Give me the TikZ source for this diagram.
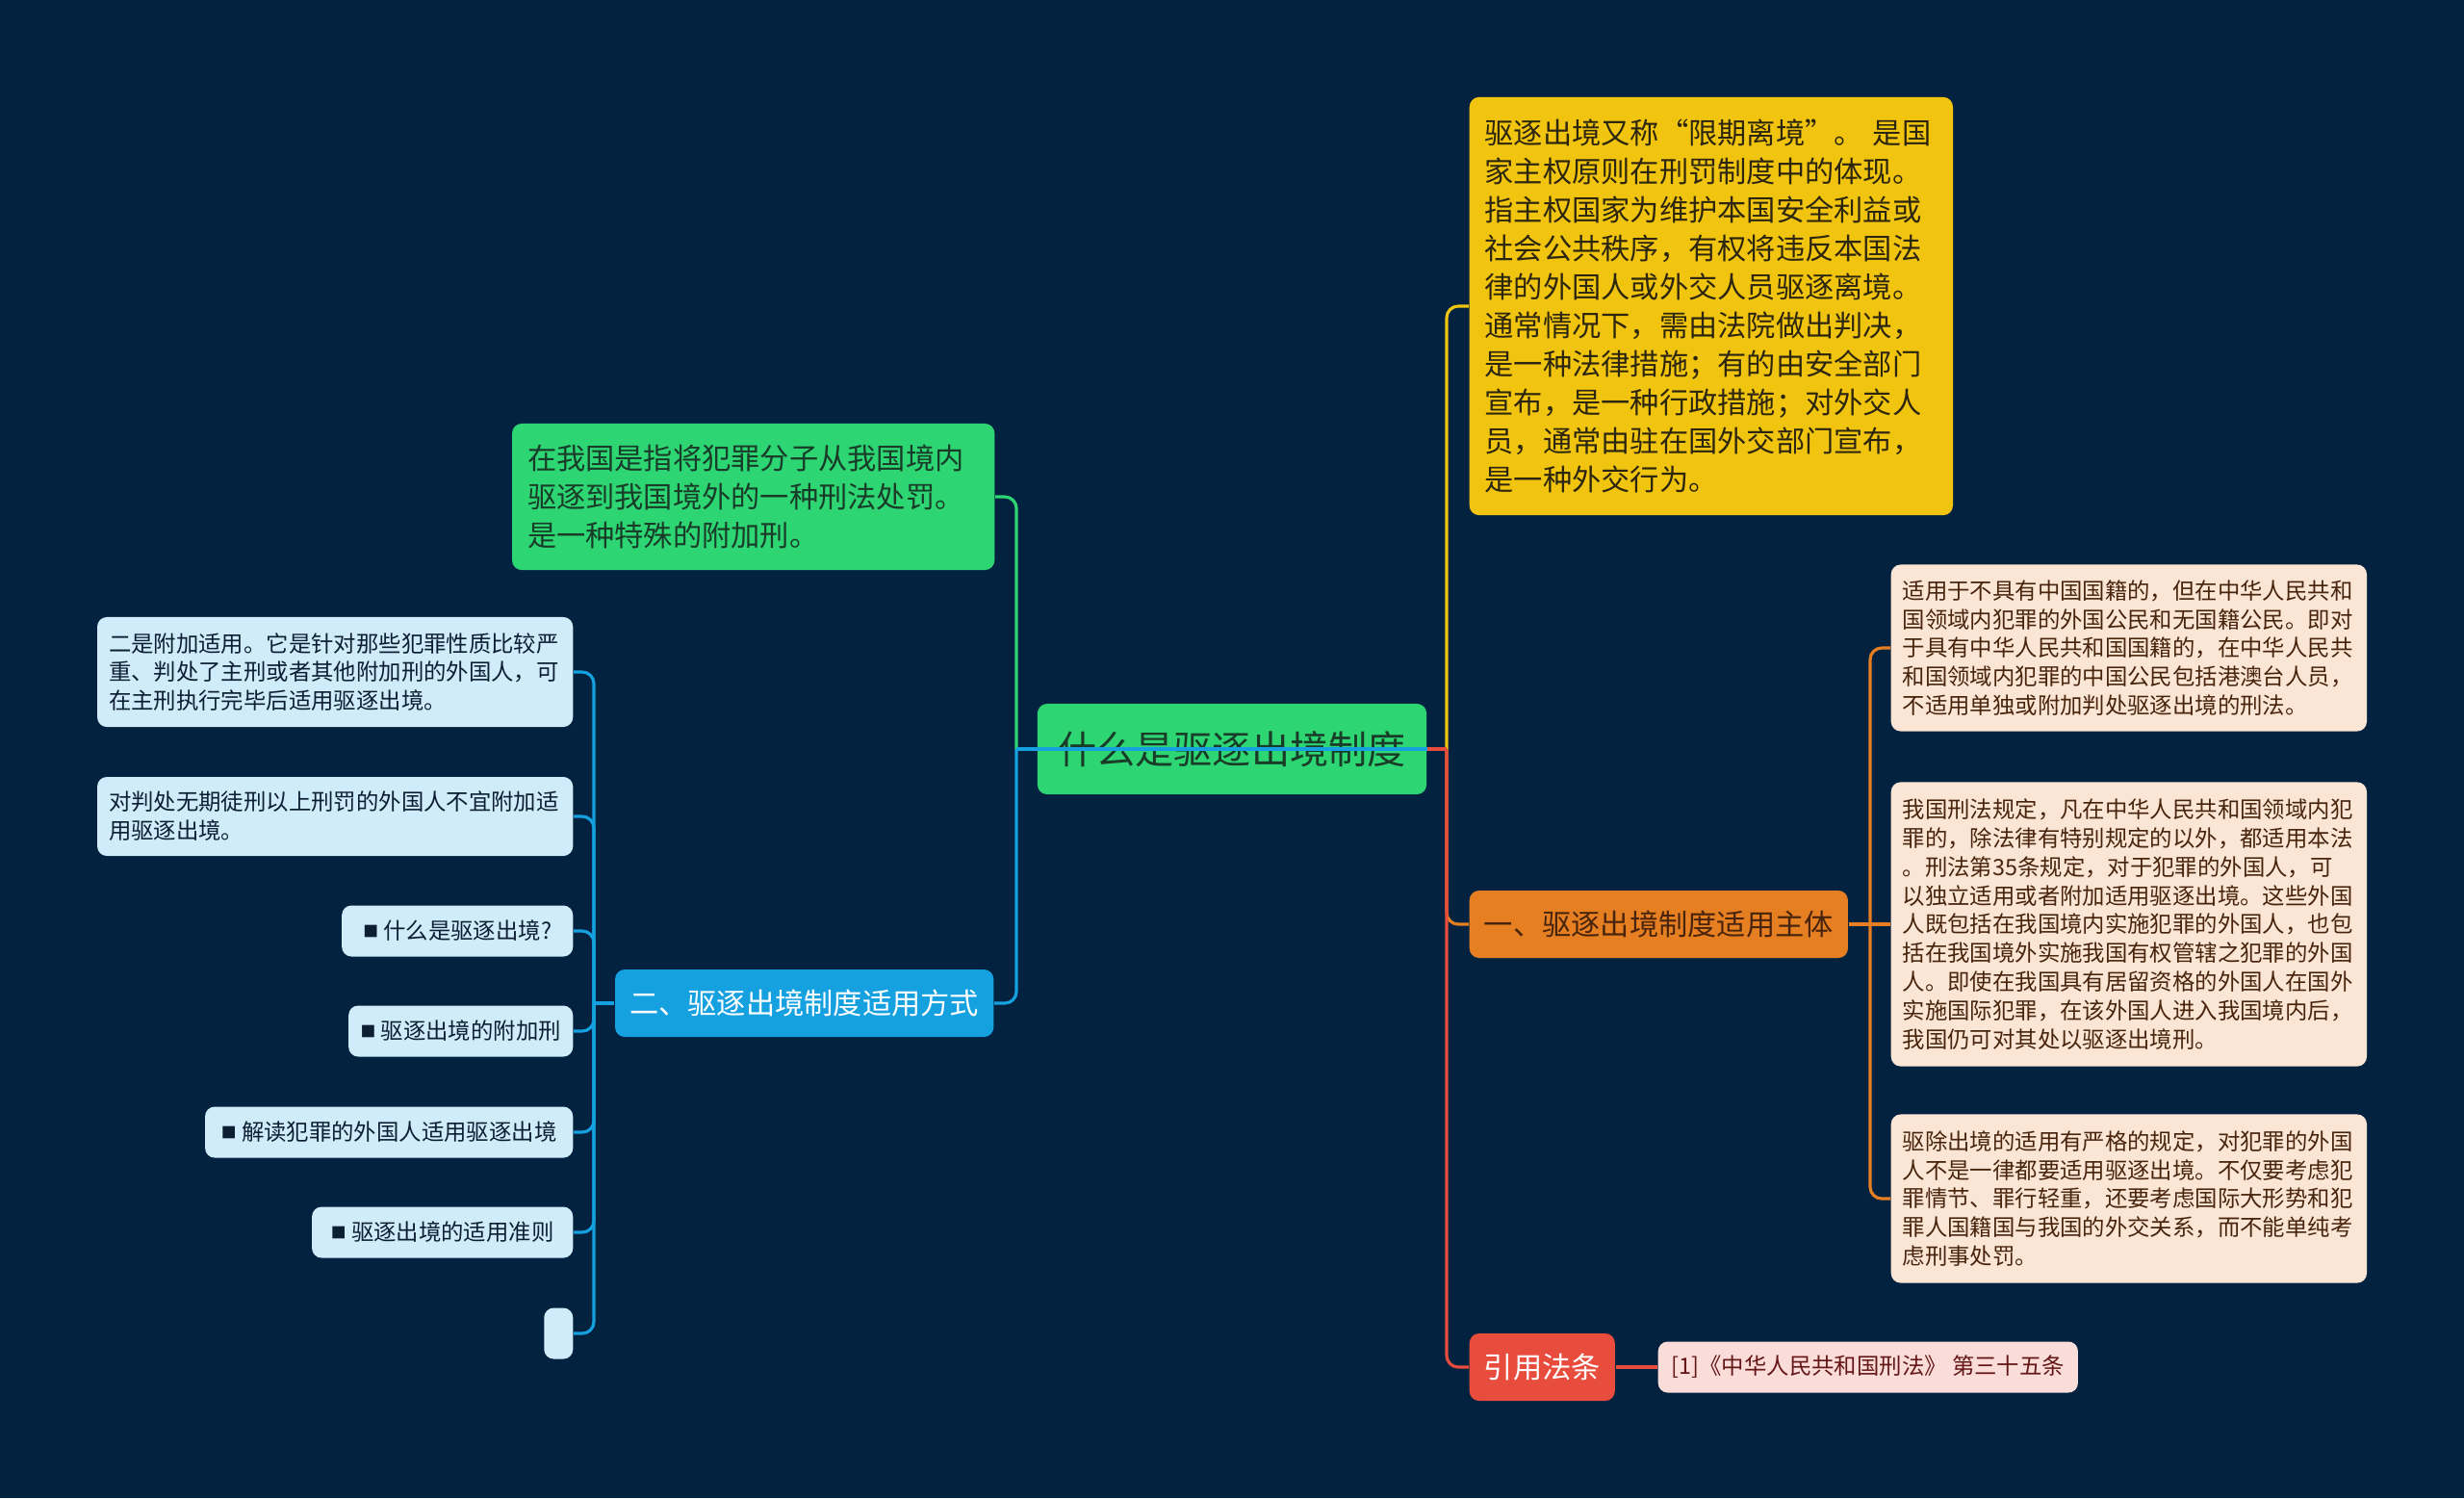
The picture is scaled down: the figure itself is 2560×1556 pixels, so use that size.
\documentclass[tikz,border=0pt]{standalone}
\usepackage{fontspec}
\setmainfont{Noto Sans CJK SC}
\usetikzlibrary{positioning,calc}
\definecolor{bgnavy}{RGB}{3,34,64}
\definecolor{mintgreen}{RGB}{46,213,115}
\definecolor{skyblue}{RGB}{21,160,224}
\definecolor{paleblue}{RGB}{208,235,249}
\definecolor{sunyellow}{RGB}{241,196,15}
\definecolor{carrot}{RGB}{230,126,34}
\definecolor{tomato}{RGB}{231,76,60}
\definecolor{peach}{RGB}{251,230,214}
\definecolor{blush}{RGB}{250,220,217}
\definecolor{inkgreen}{RGB}{24,60,40}
\definecolor{inkdark}{RGB}{45,38,15}
\definecolor{inknavy}{RGB}{12,30,50}
\definecolor{inkbrown}{RGB}{72,36,12}
\definecolor{inkred}{RGB}{100,22,22}

\newcommand{\bigtext}{\fontsize{11.4}{14}\selectfont}
\newcommand{\midtext}{\fontsize{8.6}{11.4}\selectfont}
\newcommand{\smalltext}{\fontsize{6.65}{8.5}\selectfont}
\newcommand{\sqbullet}{\raisebox{0.8pt}{\fontsize{4.5}{4.5}\selectfont ■}\ }

\begin{document}
\begin{tikzpicture}[
    x=0.01cm, y=-0.01cm,
    box/.style={rounded corners=0.1cm, inner sep=0pt},
    rootbox/.style={box, fill=mintgreen, text=inkgreen, font=\bigtext, minimum width=4.04cm, minimum height=0.94cm},
    topicbox/.style={box, font=\midtext, minimum height=0.70cm},
    notebox/.style={box, font=\midtext, align=left, inner xsep=0.16cm},
    leafbox/.style={box, font=\smalltext, fill=paleblue, text=inknavy, minimum height=0.53cm},
    leafnote/.style={box, font=\smalltext, align=left, inner xsep=0.12cm, text width=4.70cm},
    link/.style={line width=0.9pt, rounded corners=0.12cm}
]
\fill[bgnavy] (0,0) rectangle (2560,1556);
\useasboundingbox (0,0) rectangle (2560,1556);

% Root
\node[rootbox] (root) at (1280,778) {什么是驱逐出境制度};

% right side
\node[notebox, fill=sunyellow, text=inkdark, text width=4.70cm, minimum height=4.34cm, anchor=west] (define) at (1526,318)
    {驱逐出境又称“限期离境”。 是国\\家主权原则在刑罚制度中的体现。\\指主权国家为维护本国安全利益或\\社会公共秩序，有权将违反本国法\\律的外国人或外交人员驱逐离境。\\通常情况下，需由法院做出判决，\\是一种法律措施；有的由安全部门\\宣布，是一种行政措施；对外交人\\员，通常由驻在国外交部门宣布，\\是一种外交行为。};
\node[topicbox, fill=carrot, text=inkbrown, minimum width=3.93cm, anchor=west] (subject) at (1526,960) {一、驱逐出境制度适用主体};
\node[topicbox, fill=tomato, text=white, minimum width=1.51cm, anchor=west] (cite) at (1526,1420) {引用法条};

\node[leafnote, fill=peach, text=inkbrown, minimum height=1.73cm, anchor=west] (subj1) at (1964,673)
    {适用于不具有中国国籍的，但在中华人民共和\\国领域内犯罪的外国公民和无国籍公民。即对\\于具有中华人民共和国国籍的，在中华人民共\\和国领域内犯罪的中国公民包括港澳台人员，\\不适用单独或附加判处驱逐出境的刑法。};
\node[leafnote, fill=peach, text=inkbrown, minimum height=2.95cm, anchor=west] (subj2) at (1964,960)
    {我国刑法规定，凡在中华人民共和国领域内犯\\罪的，除法律有特别规定的以外，都适用本法\\。刑法第35条规定，对于犯罪的外国人，可\\以独立适用或者附加适用驱逐出境。这些外国\\人既包括在我国境内实施犯罪的外国人，也包\\括在我国境外实施我国有权管辖之犯罪的外国\\人。即使在我国具有居留资格的外国人在国外\\实施国际犯罪，在该外国人进入我国境内后，\\我国仍可对其处以驱逐出境刑。};
\node[leafnote, fill=peach, text=inkbrown, minimum height=1.75cm, anchor=west] (subj3) at (1964,1245)
    {驱除出境的适用有严格的规定，对犯罪的外国\\人不是一律都要适用驱逐出境。不仅要考虑犯\\罪情节、罪行轻重，还要考虑国际大形势和犯\\罪人国籍国与我国的外交关系，而不能单纯考\\虑刑事处罚。};
\node[leafbox, fill=blush, text=inkred, minimum width=4.36cm, anchor=west] (lawref) at (1722,1420) {[1]《中华人民共和国刑法》 第三十五条};

% left side
\node[notebox, fill=mintgreen, text=inkgreen, text width=4.69cm, minimum height=1.52cm, anchor=east] (meaning) at (1034,516)
    {在我国是指将犯罪分子从我国境内\\驱逐到我国境外的一种刑法处罚。\\是一种特殊的附加刑。};
\node[topicbox, fill=skyblue, text=white, minimum width=3.93cm, anchor=east] (method) at (1033,1042) {二、驱逐出境制度适用方式};

\node[leafnote, fill=paleblue, text=inknavy, minimum height=1.14cm, anchor=east] (m1) at (596,698)
    {二是附加适用。它是针对那些犯罪性质比较严\\重、判处了主刑或者其他附加刑的外国人，可\\在主刑执行完毕后适用驱逐出境。};
\node[leafnote, fill=paleblue, text=inknavy, minimum height=0.82cm, anchor=east] (m2) at (596,848)
    {对判处无期徒刑以上刑罚的外国人不宜附加适\\用驱逐出境。};
\node[leafbox, minimum width=2.40cm, anchor=east] (m3) at (596,967) {\sqbullet 什么是驱逐出境?};
\node[leafbox, minimum width=2.33cm, anchor=east] (m4) at (596,1071) {\sqbullet 驱逐出境的附加刑};
\node[leafbox, minimum width=3.82cm, anchor=east] (m5) at (596,1176) {\sqbullet 解读犯罪的外国人适用驱逐出境};
\node[leafbox, minimum width=2.71cm, anchor=east] (m6) at (596,1280) {\sqbullet 驱逐出境的适用准则};
\node[leafbox, minimum width=0.30cm, anchor=east] (m7) at (596,1385) {};

% junctions
\coordinate (lhub) at (1056,778);
\coordinate (rhub) at (1503,778);
\coordinate (mhub) at (617,1042);
\coordinate (shub) at (1943,960);

% connectors
\draw[link, draw=sunyellow] (rhub) |- (define.west);
\draw[link, draw=carrot] (rhub) |- (subject.west);
\draw[link, draw=tomato] (rhub) |- (cite.west);
\draw[link, draw=tomato] (root.east) -- (rhub);
\draw[link, draw=mintgreen] (lhub) |- (meaning.east);
\draw[link, draw=skyblue] (lhub) |- (method.east);
\draw[link, draw=skyblue] (root.east) -- (lhub);

\draw[link, draw=carrot] (subject.east) -- (shub) -- (subj2.west);
\foreach \n in {subj1,subj3}
    \draw[link, draw=carrot] (shub) |- (\n.west);
\draw[link, draw=tomato] (cite.east) -- (lawref.west);

\draw[link, draw=skyblue] (method.west) -- (mhub);
\foreach \n in {m1,m2,m3,m4,m5,m6,m7}
    \draw[link, draw=skyblue] (mhub) |- (\n.east);

\end{tikzpicture}
\end{document}
